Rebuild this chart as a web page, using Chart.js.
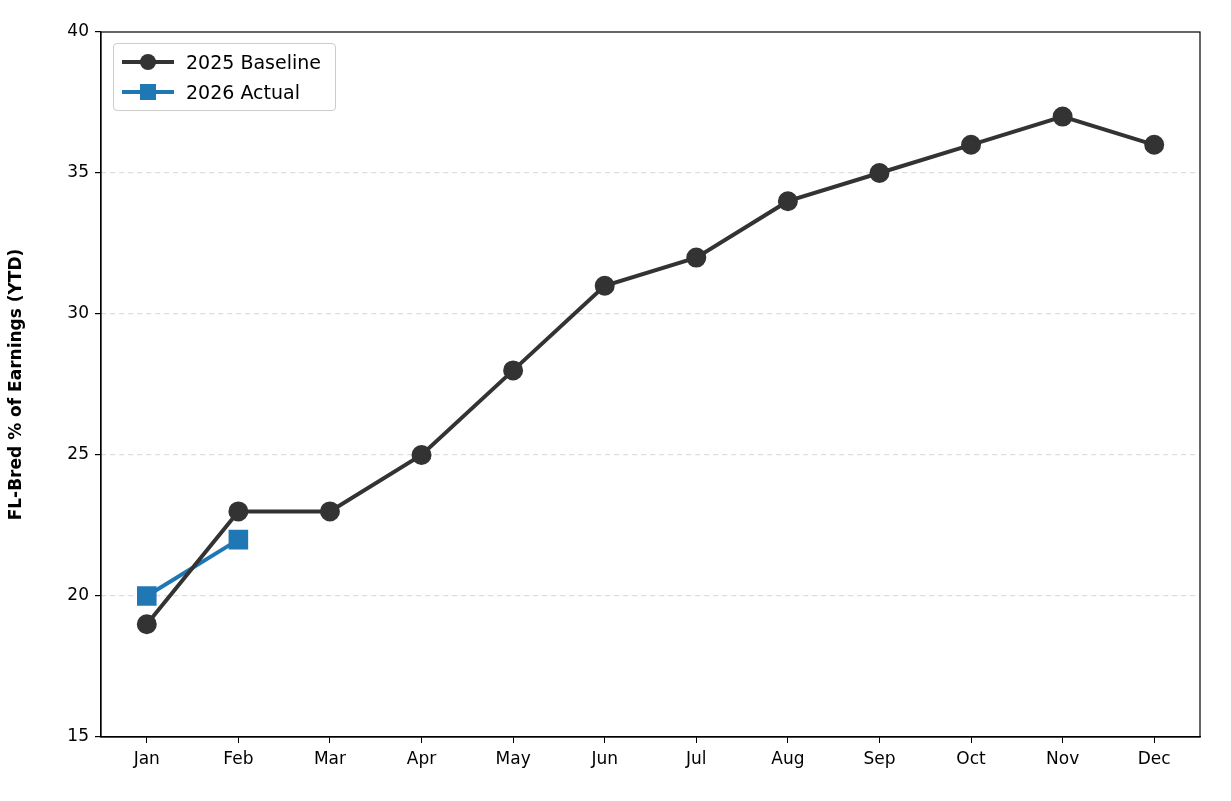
<!DOCTYPE html>
<html>
<head>
<meta charset="utf-8">
<script src="https://cdn.jsdelivr.net/npm/chart.js@4"></script>
<style>
  body { margin: 0; background: #fff; }
  #wrap { position: relative; width: 1231px; height: 801px; }
  #legend {
    position: absolute; left: 113px; top: 43px; width: 221px; height: 66px;
    border: 1px solid #ccc; border-radius: 4px; background: rgba(255,255,255,0.9);
    font-family: "DejaVu Sans", sans-serif; font-size: 19px; color: #000;
  }
  .row { position: absolute; left: 6px; height: 30px; display: flex; align-items: center; }
  .row svg { margin-right: 10px; }
</style>
</head>
<body>
<div id="wrap">
  <canvas id="c" width="1231" height="801"></canvas>
  <div id="legend">
    <div class="row" style="top:3px">
      <svg width="56" height="20"><line x1="2" y1="10" x2="54" y2="10" stroke="#333" stroke-width="4"/><circle cx="28" cy="10" r="8" fill="#333"/></svg>2025 Baseline
    </div>
    <div class="row" style="top:33px">
      <svg width="56" height="20"><line x1="2" y1="10" x2="54" y2="10" stroke="#1f77b4" stroke-width="4"/><rect x="20" y="2" width="16" height="16" fill="#1f77b4"/></svg>2026 Actual
    </div>
  </div>
</div>
<script>
const months = ['Jan','Feb','Mar','Apr','May','Jun','Jul','Aug','Sep','Oct','Nov','Dec'];
const baseline2025 = [19, 23, 23, 25, 28, 31, 32, 34, 35, 36, 37, 36];
const actual2026 = [20, 22];

const frame = {
  id: 'frame',
  afterDraw(chart) {
    const a = chart.chartArea, ctx = chart.ctx;
    ctx.save();
    ctx.strokeStyle = '#000';
    ctx.lineWidth = 1.2;
    ctx.strokeRect(a.left, a.top, a.right - a.left, a.bottom - a.top);
    ctx.restore();
  }
};

Chart.defaults.font.family = '"DejaVu Sans", sans-serif';
Chart.defaults.color = '#000';

new Chart(document.getElementById('c'), {
  type: 'line',
  data: {
    labels: months,
    datasets: [
      {
        label: '2025 Baseline',
        data: baseline2025,
        borderColor: '#333',
        backgroundColor: '#333',
        borderWidth: 4,
        pointRadius: 8,
        pointHoverRadius: 8,
        pointStyle: 'circle',
        tension: 0
      },
      {
        label: '2026 Actual',
        data: actual2026,
        borderColor: '#1f77b4',
        backgroundColor: '#1f77b4',
        borderWidth: 4,
        pointRadius: 11,
        pointHoverRadius: 11,
        pointStyle: 'rect',
        tension: 0
      }
    ]
  },
  options: {
    responsive: false,
    animation: false,
    layout: { padding: { top: 32, right: 31, left: 0, bottom: 0 } },
    plugins: { legend: { display: false }, tooltip: { enabled: false } },
    scales: {
      x: {
        offset: true,
        grid: { color: 'transparent', tickColor: '#000', tickLength: 6, drawOnChartArea: false },
        border: { color: '#000', width: 1.2 },
        ticks: { font: { size: 17 }, padding: 6 },
        afterFit(s) { s.height = 64; }
      },
      y: {
        min: 15,
        max: 40,
        ticks: { stepSize: 5, font: { size: 17 }, padding: 6 },
        grid: {
          color: ctx => (ctx.tick && (ctx.tick.value === 15 || ctx.tick.value === 40)) ? 'transparent' : '#dddddd',
          tickColor: '#000',
          tickLength: 6,
          lineWidth: 1.2
        },
        border: { color: '#000', width: 1.2, dash: [5, 4] },
        title: { display: true, text: 'FL-Bred % of Earnings (YTD)', font: { size: 17, weight: 'bold' }, padding: 6 },
        afterFit(s) { s.width = 101; }
      }
    }
  },
  plugins: [frame]
});
</script>
</body>
</html>
